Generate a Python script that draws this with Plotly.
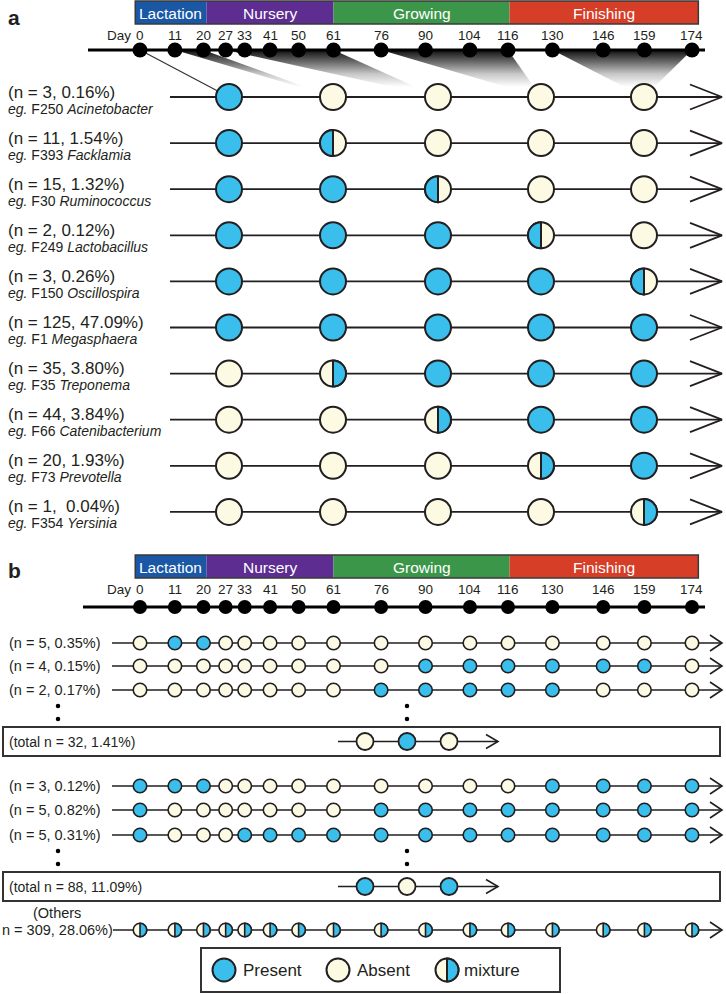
import plotly.graph_objects as go

# ---------------- data ----------------
DAYS = [0, 11, 20, 27, 33, 41, 50, 61, 76, 90, 104, 116, 130, 146, 159, 174]
DAY_TICK_LABELS = [str(d) for d in DAYS]
PHASE_NAMES = ["Lactation", "Nursery", "Growing", "Finishing"]
PHASE_START = [-1.5, 21, 61, 116.5]
PHASE_END = [21, 61, 116.5, 176]

# panel a : groups of sampling days summarised by one circle each
A_GROUP_DAYS = [[0], [11, 20], [27, 33, 41, 50, 61], [76, 90, 104, 116], [130, 146, 159, 174]]
A_COUNTS = ["(n = 3, 0.16%)", "(n = 11, 1.54%)", "(n = 15, 1.32%)", "(n = 2, 0.12%)",
            "(n = 3, 0.26%)", "(n = 125, 47.09%)", "(n = 35, 3.80%)", "(n = 44, 3.84%)",
            "(n = 20, 1.93%)", "(n = 1,\u00a0 0.04%)"]
A_OTU = ["F250", "F393", "F30", "F249", "F150", "F1", "F35", "F66", "F73", "F354"]
A_GENUS = ["Acinetobacter", "Facklamia", "Ruminococcus", "Lactobacillus", "Oscillospira",
           "Megasphaera", "Treponema", "Catenibacterium", "Prevotella", "Yersinia"]
# P present, A absent, L mixture (present half left), R mixture (present half right)
A_STATES = ["PAAAA", "PLAAA", "PPLAA", "PPPLA", "PPPPL",
            "PPPPP", "ARPPP", "AARPP", "AAARP", "AAAAR"]

# panel b
B1_LABELS = ["(n = 5, 0.35%)", "(n = 4, 0.15%)", "(n = 2, 0.17%)"]
B1_STATES = ["APPAAAAAAAAAAAAA", "AAAAAAAAAPPPPPPA", "AAAAAAAAPPPPPAAA"]
B1_TOTAL = "(total n = 32, 1.41%)"
B1_MINI = "APA"
B2_LABELS = ["(n = 3, 0.12%)", "(n = 5, 0.82%)", "(n = 5, 0.31%)"]
B2_STATES = ["PPPAAAAAAAAAPPPP", "PAAAAAAAPPPPPPPP", "PAAAPPPPPPPPPPPP"]
B2_TOTAL = "(total n = 88, 11.09%)"
B2_MINI = "PAP"
OTHERS_LABEL = ["(Others", "n = 309, 28.06%)"]
OTHERS_STATES = "R" * 16
LEGEND_ITEMS = [("P", "Present"), ("A", "Absent"), ("R", "mixture")]

# ---------------- style ----------------
BLUE = "rgb(58,190,236)"
CREAM = "rgb(253,250,228)"
DARK = "#231f20"
PHASE_COLORS = ["rgb(26,88,166)", "rgb(94,45,146)", "rgb(60,150,74)", "rgb(214,62,40)"]
FONT = "Liberation Sans, Arial, Helvetica, sans-serif"
W, H = 726, 994
X0, X1 = -44.13, 184.72     # day axis range


def hx(px):
    """layout helper: page pixel -> day-axis value"""
    return X0 + px / W * (X1 - X0)


fig = go.Figure()
shapes = []
annots = []


def add_lines(xs, ys, color=DARK, width=1.8):
    fig.add_trace(go.Scatter(x=xs, y=ys, mode="lines", line=dict(color=color, width=width),
                             hoverinfo="skip", showlegend=False))


def half_path(r, side):
    k = 0.5523
    s = -1 if side == "L" else 1
    return (f"M 0,{r} C {s*k*r},{r} {s*r},{k*r} {s*r},0 "
            f"C {s*r},{-k*r} {s*k*r},{-r} 0,{-r} Z")


def add_circles(xs, ys, states, size, lw):
    groups = {"P": ([], []), "A": ([], [])}
    for x, y, s in zip(xs, ys, states):
        key = "P" if s == "P" else "A"
        groups[key][0].append(x)
        groups[key][1].append(y)
        if s in "LR":
            shapes.append(dict(type="path", xref="x", yref="y", xsizemode="pixel",
                               ysizemode="pixel", xanchor=x, yanchor=y,
                               path=half_path(size / 2, s), fillcolor=BLUE,
                               line=dict(color=DARK, width=lw), layer="above"))
    for key, col in (("P", BLUE), ("A", CREAM)):
        if groups[key][0]:
            fig.add_trace(go.Scatter(x=groups[key][0], y=groups[key][1], mode="markers",
                                     marker=dict(size=size, color=col,
                                                 line=dict(color=DARK, width=lw)),
                                     hoverinfo="skip", showlegend=False))


def add_arrow_row(x_start, x_tip, arm_len, half_h, y, width):
    add_lines([x_start, x_tip, None, x_tip - arm_len, x_tip, x_tip - arm_len],
              [y, y, None, y - half_h, y, y + half_h], width=width)


def text(x, y, t, size, anchor="left", color=DARK, **kw):
    annots.append(dict(x=x, y=y, xref="x", yref="y", text=t, showarrow=False,
                       xanchor=anchor, yanchor="middle",
                       font=dict(family=FONT, size=size, color=color), **kw))


def phase_bar(y0, y1):
    for name, a, b, col in zip(PHASE_NAMES, PHASE_START, PHASE_END, PHASE_COLORS):
        shapes.append(dict(type="rect", xref="x", yref="y", x0=a, x1=b, y0=y0, y1=y1,
                           fillcolor=col, line=dict(width=0), layer="below"))
        text((a + b) / 2, (y0 + y1) / 2 + 0.5, name, 15.5, anchor="center", color="white")
    shapes.append(dict(type="rect", xref="x", yref="y", x0=PHASE_START[0], x1=PHASE_END[-1],
                       y0=y0, y1=y1, line=dict(color="#3a3a3a", width=1.5), layer="above"))


def timeline(y_lab, y_line, x_from, dot_size):
    text(hx(133), y_lab, "Day", 13.5, anchor="right")
    for d, lab in zip(DAYS, DAY_TICK_LABELS):
        text(d, y_lab, lab, 13.5, anchor="center")
    add_lines([x_from, hx(705)], [y_line, y_line], color="black", width=3)
    fig.add_trace(go.Scatter(x=DAYS, y=[y_line] * len(DAYS), mode="markers",
                             marker=dict(size=dot_size, color="black"),
                             hoverinfo="skip", showlegend=False))


# ================= panel a =================
text(hx(6), 17, "<b>a</b>", 21)
phase_bar(1, 24)
A_TL_Y = 50
A_COL_X = [hx(p) for p in (229, 333, 438, 541, 644)]
A_Y0, A_DY = 97, 46.1
A_R = 13

# gradient wedges linking sampling days to summary circles
for g, days in enumerate(A_GROUP_DAYS):
    if len(days) == 1:
        add_lines([days[0], A_COL_X[g]], [A_TL_Y, A_Y0], color="#333333", width=1.2)
    else:
        fig.add_trace(go.Scatter(
            x=[min(days), max(days), A_COL_X[g], min(days)],
            y=[A_TL_Y, A_TL_Y, A_Y0, A_TL_Y],
            mode="lines", line=dict(width=0), fill="toself",
            fillgradient=dict(type="vertical",
                              colorscale=[[0, "rgb(15,15,15)"], [0.3, "rgb(100,100,100)"],
                                          [0.65, "rgb(200,200,200)"], [1, "rgb(255,255,255)"]],
                              start=A_TL_Y, stop=A_Y0 - 10),
            hoverinfo="skip", showlegend=False))

timeline(35, A_TL_Y, hx(88), 15)

for i, (cnt, otu, gen, st) in enumerate(zip(A_COUNTS, A_OTU, A_GENUS, A_STATES)):
    y = A_Y0 + i * A_DY
    add_arrow_row(hx(170), hx(722), hx(722) - hx(690), 12.5, y, 1.8)
    add_circles(A_COL_X, [y] * 5, st, 26, 2)
    text(hx(6), y - 5, cnt, 17)
    text(hx(6), y + 11.5, f"<i>eg.</i> {otu} <i>{gen}</i>", 14)

# ================= panel b =================
text(hx(6), 570, "<b>b</b>", 21)
phase_bar(555, 578)
timeline(589, 607, hx(83), 14)

B_ROW_START, B_TIP = hx(112), hx(722)
B_ARM = hx(722) - hx(710)
BOX_X0, BOX_X1 = hx(3), hx(720)
MINI_X = [hx(p) for p in (365, 407, 449)]


def b_group(labels, states, ys, dot_ys, box_y0, box_y1, total, mini):
    for lab, st, y in zip(labels, states, ys):
        add_arrow_row(B_ROW_START, B_TIP, B_ARM, 8, y, 1.6)
        add_circles(DAYS, [y] * 16, st, 13.5, 1.6)
        text(hx(102), y, lab, 14.5, anchor="right")
    for dx in (hx(58), hx(407)):
        fig.add_trace(go.Scatter(x=[dx, dx], y=dot_ys, mode="markers",
                                 marker=dict(size=4.5, color="black"),
                                 hoverinfo="skip", showlegend=False))
    shapes.append(dict(type="rect", xref="x", yref="y", x0=BOX_X0, x1=BOX_X1,
                       y0=box_y0, y1=box_y1, line=dict(color="#333333", width=2),
                       layer="below"))
    yc = (box_y0 + box_y1) / 2
    text(hx(7), yc, total, 14)
    add_arrow_row(hx(338), hx(498), hx(498) - hx(486), 7, yc, 1.6)
    add_circles(MINI_X, [yc] * 3, mini, 17, 1.8)


b_group(B1_LABELS, B1_STATES, [643, 666, 690], [706, 719], 727, 756, B1_TOTAL, B1_MINI)
b_group(B2_LABELS, B2_STATES, [786, 810, 835], [851, 864], 872, 901, B2_TOTAL, B2_MINI)

# others row
OY = 930
add_arrow_row(hx(113), B_TIP, B_ARM, 8, OY, 1.6)
add_circles(DAYS, [OY] * 16, OTHERS_STATES, 13.5, 1.6)
text(hx(57), 913, OTHERS_LABEL[0], 14.5, anchor="center")
text(hx(57), 930, OTHERS_LABEL[1], 14.5, anchor="center")

# legend
shapes.append(dict(type="rect", xref="x", yref="y", x0=hx(201), x1=hx(560), y0=948, y1=992,
                   line=dict(color="#333333", width=2), layer="below"))
LEG_CX = [hx(p) for p in (224, 338, 447)]
LEG_TX = [hx(p) for p in (241, 355, 462)]
add_circles(LEG_CX, [970] * 3, [s for s, _ in LEGEND_ITEMS], 23, 2)
for tx, (_, lab) in zip(LEG_TX, LEGEND_ITEMS):
    text(tx, 970, lab, 17)

fig.update_layout(
    width=W, height=H, autosize=False,
    margin=dict(l=0, r=0, t=0, b=0, pad=0),
    paper_bgcolor="white", plot_bgcolor="white",
    xaxis=dict(range=[X0, X1], visible=False, fixedrange=True),
    yaxis=dict(range=[H, 0], visible=False, fixedrange=True),
    shapes=shapes, annotations=annots, showlegend=False,
    font=dict(family=FONT, color=DARK),
)
fig.write_html("out.html", config={"displayModeBar": False},
               post_script="document.body.style.margin='0';")
